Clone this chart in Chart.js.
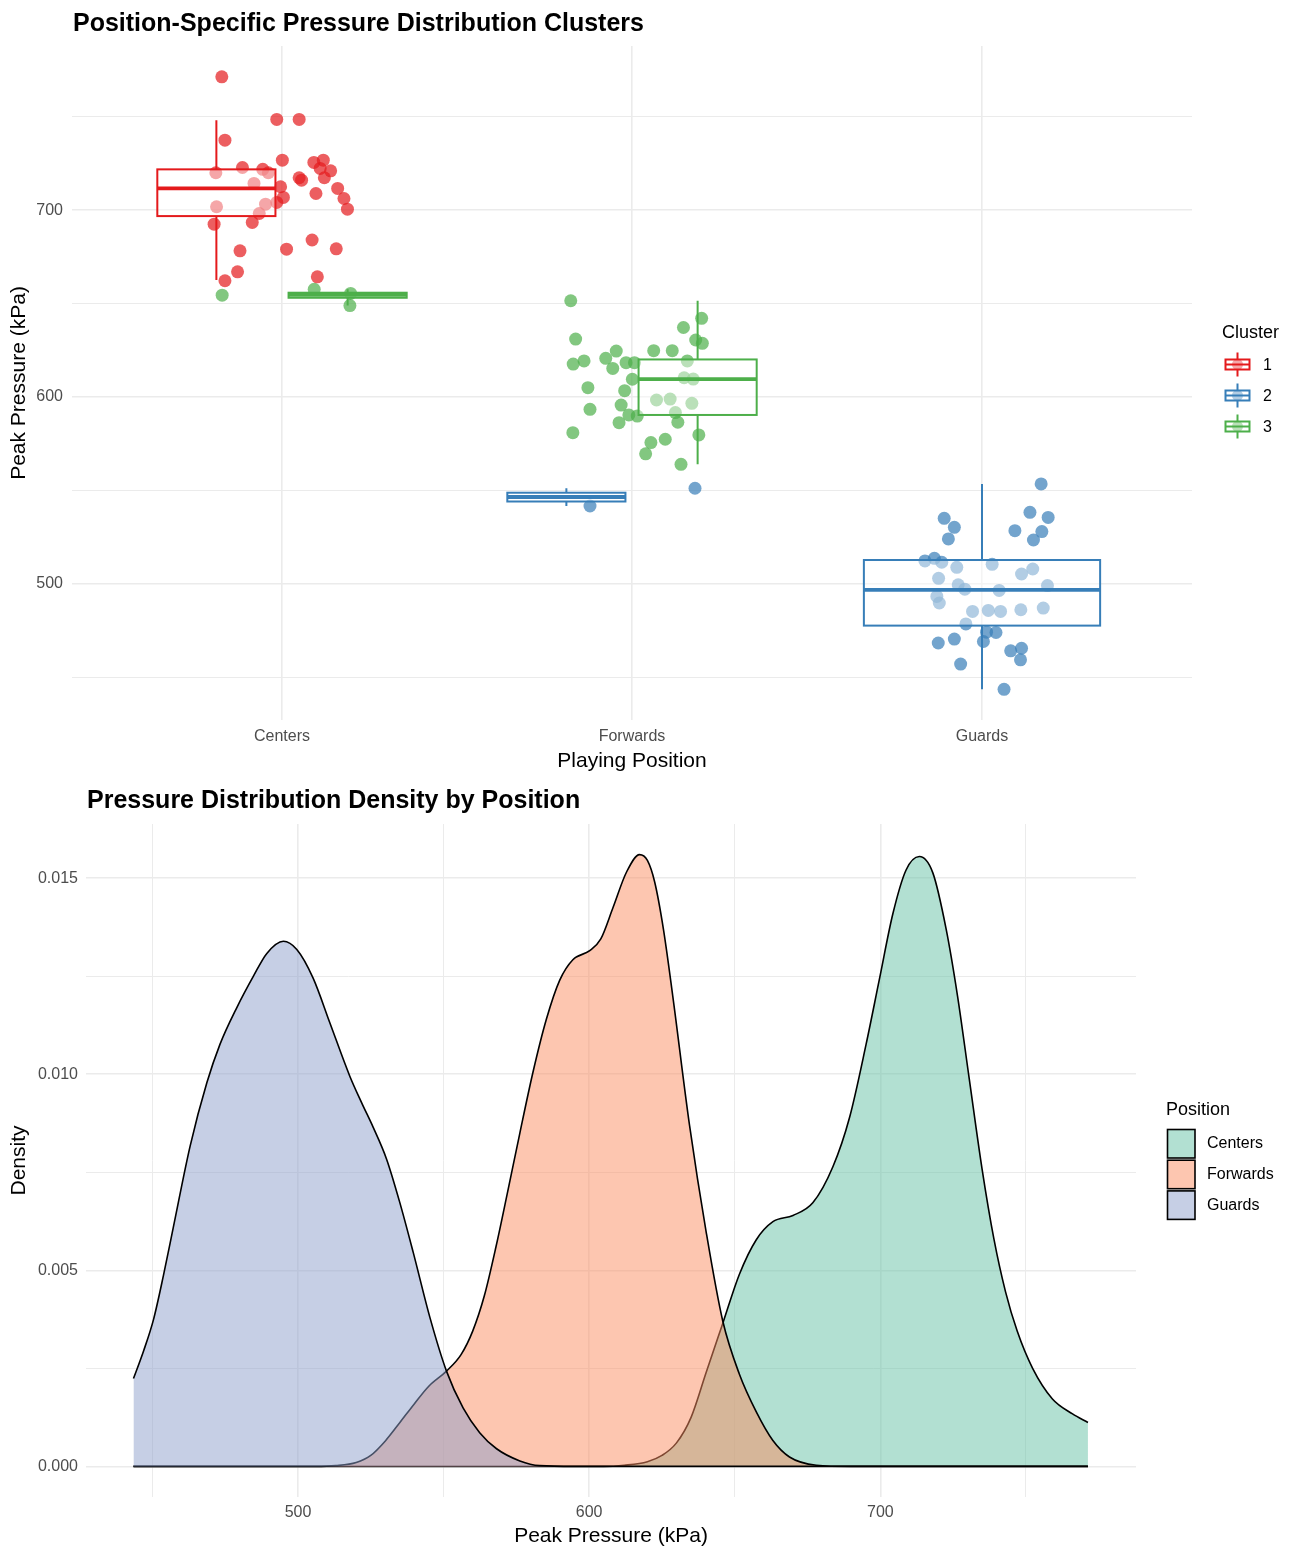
<!DOCTYPE html>
<html>
<head>
<meta charset="utf-8">
<title>Position-Specific Pressure Distribution</title>
<script src="https://cdn.jsdelivr.net/npm/chart.js@4.4.1/dist/chart.umd.min.js"></script>
<style>
  html, body { margin: 0; padding: 0; background: #ffffff; }
  #wrap { position: relative; width: 1292px; height: 1549px; overflow: hidden; }
  canvas { position: absolute; left: 0; }
</style>
</head>
<body>
<div id="wrap">
  <canvas id="clusterChart" width="1292" height="775" style="top:0px"></canvas>
  <canvas id="densityChart" width="1292" height="774" style="top:775px"></canvas>
</div>
<script>
// ---------------------------------------------------------------
// Data
// ---------------------------------------------------------------
const positions = ['Centers', 'Forwards', 'Guards'];
const clusters = ['1', '2', '3'];

// Jittered player measurements: horizontal jitter (in category units) and peak pressure (kPa)
const centersC1Jitter   = [-0.172, -0.015, 0.049, -0.163, 0.001, -0.113, -0.055, -0.039, -0.189, 0.091, 0.118, 0.109, 0.139, 0.121, 0.049, 0.056, -0.080, -0.004, 0.159, 0.097, 0.004, -0.015, -0.047, 0.177, 0.187, -0.187, -0.065, -0.085, -0.194, -0.120, 0.013, 0.086, 0.155, -0.127, -0.163, 0.101];
const centersC1Pressure = [771.3, 748.5, 748.5, 737.4, 726.7, 722.8, 721.8, 720.0, 720.0, 725.5, 726.7, 722.3, 721.0, 717.3, 717.3, 716.0, 714.3, 712.5, 711.6, 708.9, 706.8, 704.1, 703.2, 706.2, 700.5, 701.8, 698.2, 693.4, 692.5, 678.2, 679.1, 684.0, 679.3, 667.0, 662.2, 664.3];

const centersC3Jitter   = [-0.171, 0.092, 0.196, 0.194];
const centersC3Pressure = [654.5, 657.6, 655.4, 648.9];

const forwardsC2Jitter   = [-0.120, 0.180];
const forwardsC2Pressure = [541.7, 551.2];

const forwardsC3Jitter   = [-0.175, -0.161, -0.168, -0.137, -0.075, -0.045, -0.055, -0.017, 0.007, -0.126, 0.001, -0.021, -0.120, -0.031, -0.009, 0.015, -0.037, -0.169, 0.062, 0.115, 0.147, 0.199, 0.182, 0.201, 0.158, 0.149, 0.175, 0.070, 0.109, 0.171, 0.124, 0.131, 0.095, 0.054, 0.039, 0.191, 0.140];
const forwardsC3Pressure = [651.5, 631.0, 617.6, 619.3, 620.7, 624.6, 615.3, 618.4, 618.4, 605.0, 609.5, 603.4, 593.4, 595.7, 590.4, 589.8, 586.3, 580.9, 624.8, 624.8, 637.2, 642.1, 630.5, 628.7, 619.3, 610.3, 609.6, 598.4, 598.9, 596.6, 591.7, 586.5, 577.4, 575.6, 569.6, 579.7, 564.0];

const guardsC2Jitter   = [0.169, 0.137, 0.189, 0.094, 0.171, 0.147, -0.108, -0.079, -0.096, -0.163, -0.136, -0.115, -0.072, 0.029, -0.124, 0.113, 0.145, 0.187, -0.068, -0.049, 0.049, -0.129, -0.122, -0.027, 0.018, 0.053, 0.111, 0.175, -0.046, 0.013, 0.040, 0.004, -0.079, -0.125, 0.082, 0.113, 0.110, -0.061, 0.063];
const guardsC2Pressure = [553.5, 538.3, 535.6, 528.5, 528.0, 523.5, 535.1, 530.3, 524.1, 512.3, 513.7, 511.6, 508.9, 510.5, 503.0, 505.3, 508.0, 499.1, 499.5, 497.2, 496.5, 493.3, 489.8, 485.3, 485.8, 485.3, 486.2, 487.1, 478.6, 474.2, 474.0, 469.2, 470.5, 468.4, 464.2, 465.6, 459.4, 457.1, 443.6];

// Box summaries per position / cluster group
const boxPosition = [1, 1, 2, 2, 3];
const boxCluster  = [1, 3, 2, 3, 2];
const boxLower    = [662.6, 648.9, 541.7, 564.0, 443.6];
const boxQ1       = [696.8, 653.1, 544.1, 590.4, 477.7];
const boxMedian   = [711.6, 654.6, 546.5, 609.6, 496.8];
const boxQ3       = [721.8, 655.8, 548.8, 620.1, 512.8];
const boxUpper    = [748.1, 657.6, 551.2, 651.5, 553.5];

// Kernel density estimates of peak pressure by position
const densityCentersX = [443.5, 605.0, 612.0, 620.0, 625.0, 630.0, 635.0, 640.2, 645.9, 651.6, 657.4, 663.1, 670.0, 676.8, 683.7, 689.4, 695.1, 699.7, 704.3, 708.8, 713.4, 718.0, 722.6, 726.5, 730.5, 734.9, 739.0, 743.0, 747.0, 752.3, 759.1, 766.0, 771.3];
const densityCenters  = [0, 0, 0.00003, 0.00012, 0.00028, 0.00060, 0.00125, 0.00240, 0.00365, 0.00490, 0.00578, 0.00624, 0.00640, 0.00672, 0.00764, 0.00889, 0.01076, 0.01243, 0.01409, 0.01520, 0.01555, 0.01514, 0.01370, 0.01200, 0.00990, 0.00760, 0.00580, 0.00445, 0.00345, 0.00250, 0.00172, 0.00134, 0.00112];

const densityForwardsX = [443.5, 506.0, 513.0, 520.0, 525.0, 530.0, 535.0, 540.0, 545.0, 551.0, 556.0, 560.0, 564.0, 568.0, 572.0, 576.2, 580.7, 585.3, 589.9, 594.4, 600.2, 604.0, 608.2, 612.8, 617.3, 620.0, 622.5, 625.5, 628.7, 634.5, 640.2, 645.9, 651.6, 657.4, 663.1, 668.8, 678.0, 690.0, 771.3];
const densityForwards  = [0, 0, 0.00002, 0.00010, 0.00028, 0.00065, 0.00112, 0.00160, 0.00205, 0.00243, 0.00285, 0.00345, 0.00435, 0.00560, 0.00700, 0.00850, 0.01005, 0.01140, 0.01240, 0.01292, 0.01315, 0.01345, 0.01425, 0.01515, 0.01560, 0.01545, 0.01490, 0.01370, 0.01200, 0.00868, 0.00597, 0.00370, 0.00235, 0.00139, 0.00066, 0.00024, 0.00003, 0, 0];

const densityGuardsX = [443.5, 447.0, 450.4, 453.8, 457.2, 463.0, 468.7, 473.2, 479.0, 484.7, 489.3, 495.0, 499.6, 505.2, 511.0, 517.8, 522.0, 525.8, 530.4, 535.0, 539.6, 545.3, 551.0, 556.7, 562.4, 568.2, 576.2, 583.0, 595.0, 771.3];
const densityGuards  = [0.00224, 0.00295, 0.00375, 0.00487, 0.00610, 0.00818, 0.00978, 0.01076, 0.01170, 0.01250, 0.01308, 0.01339, 0.01318, 0.01245, 0.01130, 0.00995, 0.00925, 0.00865, 0.00784, 0.00672, 0.00545, 0.00380, 0.00243, 0.00149, 0.00086, 0.00045, 0.00014, 0.00002, 0, 0];

// Axis ticks
const pressureTicks      = [450, 500, 550, 600, 650, 700, 750];
const pressureTickLabels = ['', '500', '', '600', '', '700', ''];
const densityTicks       = [0, 0.0025, 0.005, 0.0075, 0.01, 0.0125, 0.015];
const densityTickLabels  = ['0.000', '', '0.005', '', '0.010', '', '0.015'];

// ---------------------------------------------------------------
// Styling
// ---------------------------------------------------------------
const FONT = "'Liberation Sans', Arial, Helvetica, sans-serif";
const clusterColors = ['228,26,28', '55,126,184', '77,175,74'];        // Set1
const positionColors = ['102,194,165', '252,141,98', '141,160,203'];   // Set2
const GRID = '#EBEBEB';
const TICK_COLOR = '#4D4D4D';

Chart.defaults.font.family = FONT;
Chart.defaults.color = TICK_COLOR;

function panelTitle(text, baseline) {
  return {
    id: 'panelTitle',
    afterDraw(chart) {
      const ctx = chart.ctx;
      ctx.save();
      ctx.font = `bold 25px ${FONT}`;
      ctx.fillStyle = '#000';
      ctx.textAlign = 'left';
      ctx.textBaseline = 'alphabetic';
      ctx.fillText(text, chart.chartArea.left + 1, baseline);
      ctx.restore();
    }
  };
}

// Box-and-whisker glyphs, dodged within each position
const clusterBoxes = {
  id: 'clusterBoxes',
  afterDatasetsDraw(chart) {
    const { ctx } = chart;
    const xs = chart.scales.x, ys = chart.scales.y;
    ctx.save();
    positions.forEach((name, p) => {
      const members = [];
      boxPosition.forEach((bp, i) => { if (bp === p + 1) members.push(i); });
      const slot = 0.75 / members.length;
      members.forEach((i, k) => {
        const centre = (p + 1) - 0.375 + slot * (k + 0.5);
        const half = slot * 0.9 / 2;
        const xl = xs.getPixelForValue(centre - half);
        const xr = xs.getPixelForValue(centre + half);
        const xc = xs.getPixelForValue(centre);
        const yLo = ys.getPixelForValue(boxLower[i]);
        const yQ1 = ys.getPixelForValue(boxQ1[i]);
        const yMed = ys.getPixelForValue(boxMedian[i]);
        const yQ3 = ys.getPixelForValue(boxQ3[i]);
        const yHi = ys.getPixelForValue(boxUpper[i]);
        const col = `rgb(${clusterColors[boxCluster[i] - 1]})`;
        ctx.strokeStyle = col;
        ctx.lineWidth = 2;
        ctx.lineCap = 'butt';
        ctx.beginPath();
        ctx.moveTo(xc, yQ3); ctx.lineTo(xc, yHi);
        ctx.moveTo(xc, yQ1); ctx.lineTo(xc, yLo);
        ctx.stroke();
        ctx.fillStyle = 'rgba(255,255,255,0.45)';
        ctx.fillRect(xl, yQ3, xr - xl, yQ1 - yQ3);
        ctx.strokeRect(xl, yQ3, xr - xl, yQ1 - yQ3);
        ctx.lineWidth = 3.8;
        ctx.beginPath();
        ctx.moveTo(xl, yMed); ctx.lineTo(xr, yMed);
        ctx.stroke();
      });
    });
    ctx.restore();
  }
};

const clusterLegend = {
  id: 'clusterLegend',
  afterDraw(chart) {
    const ctx = chart.ctx;
    ctx.save();
    ctx.fillStyle = '#000';
    ctx.textBaseline = 'middle';
    ctx.textAlign = 'left';
    ctx.font = `18px ${FONT}`;
    ctx.fillText('Cluster', 1222, 333);
    clusters.forEach((c, i) => {
      const cy = 364.5 + i * 31;
      const cx = 1237.5;
      const col = clusterColors[i];
      ctx.fillStyle = `rgba(${col},0.7)`;
      ctx.beginPath();
      ctx.arc(cx, cy, 5.5, 0, Math.PI * 2);
      ctx.fill();
      ctx.strokeStyle = `rgb(${col})`;
      ctx.lineWidth = 2;
      ctx.beginPath();
      ctx.moveTo(cx, cy - 12); ctx.lineTo(cx, cy - 5);
      ctx.moveTo(cx, cy + 5); ctx.lineTo(cx, cy + 12);
      ctx.stroke();
      ctx.fillStyle = 'rgba(255,255,255,0.45)';
      ctx.fillRect(cx - 12, cy - 5, 24, 10);
      ctx.strokeRect(cx - 12, cy - 5, 24, 10);
      ctx.beginPath();
      ctx.moveTo(cx - 12, cy); ctx.lineTo(cx + 12, cy);
      ctx.stroke();
      ctx.fillStyle = '#000';
      ctx.font = `16px ${FONT}`;
      ctx.fillText(c, 1263, cy + 1);
    });
    ctx.restore();
  }
};

const positionLegend = {
  id: 'positionLegend',
  afterDraw(chart) {
    const ctx = chart.ctx;
    ctx.save();
    ctx.fillStyle = '#000';
    ctx.textBaseline = 'middle';
    ctx.textAlign = 'left';
    ctx.font = `18px ${FONT}`;
    ctx.fillText('Position', 1166, 335);
    positions.forEach((name, i) => {
      const top = 354.5 + i * 30.7;
      ctx.fillStyle = `rgba(${positionColors[i]},0.5)`;
      ctx.fillRect(1167.5, top, 27.5, 28.5);
      ctx.strokeStyle = '#000';
      ctx.lineWidth = 1.6;
      ctx.strokeRect(1167.5, top, 27.5, 28.5);
      ctx.fillStyle = '#000';
      ctx.font = `16px ${FONT}`;
      ctx.fillText(name, 1207, top + 14.5);
    });
    ctx.restore();
  }
};

const noInteraction = {
  responsive: false,
  maintainAspectRatio: false,
  animation: false,
  devicePixelRatio: 1,
  events: []
};

// ---------------------------------------------------------------
// Panel 1: jittered points with cluster boxes by position
// ---------------------------------------------------------------
const clusterSeries = [
  [{ jitter: centersC1Jitter, pressure: centersC1Pressure, pos: 1 }],
  [{ jitter: forwardsC2Jitter, pressure: forwardsC2Pressure, pos: 2 },
   { jitter: guardsC2Jitter, pressure: guardsC2Pressure, pos: 3 }],
  [{ jitter: centersC3Jitter, pressure: centersC3Pressure, pos: 1 },
   { jitter: forwardsC3Jitter, pressure: forwardsC3Pressure, pos: 2 }]
];

const pointDatasets = clusters.map((c, ci) => {
  const pts = [];
  clusterSeries[ci].forEach(g => {
    g.jitter.forEach((j, k) => pts.push({ x: g.pos + j, y: g.pressure[k] }));
  });
  return {
    label: c,
    data: pts,
    pointRadius: 6.5,
    pointBorderWidth: 0,
    pointBackgroundColor: `rgba(${clusterColors[ci]},0.7)`,
    backgroundColor: `rgba(${clusterColors[ci]},0.7)`,
    borderColor: 'rgba(0,0,0,0)'
  };
});

new Chart(document.getElementById('clusterChart'), {
  type: 'scatter',
  data: { datasets: pointDatasets },
  options: {
    ...noInteraction,
    layout: { padding: { top: 46, right: 100, bottom: 0, left: 0 } },
    plugins: { legend: { display: false }, tooltip: { enabled: false }, title: { display: false } },
    scales: {
      x: {
        type: 'linear',
        min: 0.4,
        max: 3.6,
        afterBuildTicks: s => { s.ticks = positions.map((_, i) => ({ value: i + 1 })); },
        afterFit: s => { s.height = 55; },
        ticks: {
          callback: (v, i) => positions[i],
          autoSkip: false, maxRotation: 0, minRotation: 0,
          padding: 7.4, color: TICK_COLOR, font: { size: 16 }
        },
        grid: { color: GRID, lineWidth: 1.6, drawTicks: false },
        border: { display: false },
        title: { display: true, text: 'Playing Position', color: '#000', font: { size: 21 }, padding: { top: 0, bottom: 1.4 } }
      },
      y: {
        type: 'linear',
        min: 427.2,
        max: 787.8,
        afterBuildTicks: s => { s.ticks = pressureTicks.map(v => ({ value: v })); },
        afterFit: s => { s.width = 72; },
        ticks: {
          callback: (v, i) => pressureTickLabels[i],
          autoSkip: false, padding: 9, color: TICK_COLOR, font: { size: 16 }
        },
        grid: {
          color: GRID,
          lineWidth: ctx => (pressureTickLabels[ctx.index] ? 1.6 : 1.0),
          drawTicks: false
        },
        border: { display: false },
        title: { display: true, text: 'Peak Pressure (kPa)', color: '#000', font: { size: 21 }, padding: { top: 7, bottom: 0 } }
      }
    }
  },
  plugins: [clusterBoxes, clusterLegend, panelTitle('Position-Specific Pressure Distribution Clusters', 30.5)]
});

// ---------------------------------------------------------------
// Panel 2: density curves by position
// ---------------------------------------------------------------
const densitySeries = [
  { x: densityCentersX, y: densityCenters, order: 3 },
  { x: densityForwardsX, y: densityForwards, order: 2 },
  { x: densityGuardsX, y: densityGuards, order: 1 }
];

const densityDatasets = positions.map((name, i) => ({
  label: name,
  data: densitySeries[i].x.map((xv, k) => ({ x: xv, y: densitySeries[i].y[k] })),
  order: densitySeries[i].order,
  fill: 'origin',
  backgroundColor: `rgba(${positionColors[i]},0.5)`,
  borderColor: '#000000',
  borderWidth: 1.6,
  pointRadius: 0,
  cubicInterpolationMode: 'monotone'
}));

new Chart(document.getElementById('densityChart'), {
  type: 'line',
  data: { datasets: densityDatasets },
  options: {
    ...noInteraction,
    layout: { padding: { top: 49, right: 156, bottom: 0, left: 0 } },
    plugins: { legend: { display: false }, tooltip: { enabled: false }, title: { display: false }, filler: { propagate: false } },
    scales: {
      x: {
        type: 'linear',
        min: 427.2,
        max: 787.8,
        afterBuildTicks: s => { s.ticks = pressureTicks.map(v => ({ value: v })); },
        afterFit: s => { s.height = 52; },
        ticks: {
          callback: (v, i) => pressureTickLabels[i],
          autoSkip: false, maxRotation: 0, minRotation: 0,
          padding: 6.4, color: TICK_COLOR, font: { size: 16 }
        },
        grid: {
          color: GRID,
          lineWidth: ctx => (pressureTickLabels[ctx.index] ? 1.6 : 1.0),
          drawTicks: false
        },
        border: { display: false },
        title: { display: true, text: 'Peak Pressure (kPa)', color: '#000', font: { size: 21 }, padding: { top: 0, bottom: 0 } }
      },
      y: {
        type: 'linear',
        min: -0.00078,
        max: 0.01638,
        afterBuildTicks: s => { s.ticks = densityTicks.map(v => ({ value: v })); },
        afterFit: s => { s.width = 86; },
        ticks: {
          callback: (v, i) => densityTickLabels[i],
          autoSkip: false, padding: 8, color: TICK_COLOR, font: { size: 16 }
        },
        grid: {
          color: GRID,
          lineWidth: ctx => (densityTickLabels[ctx.index] ? 1.6 : 1.0),
          drawTicks: false
        },
        border: { display: false },
        title: { display: true, text: 'Density', color: '#000', font: { size: 21 }, padding: { top: 7, bottom: 0 } }
      }
    }
  },
  plugins: [positionLegend, panelTitle('Pressure Distribution Density by Position', 33)]
});
</script>
</body>
</html>
